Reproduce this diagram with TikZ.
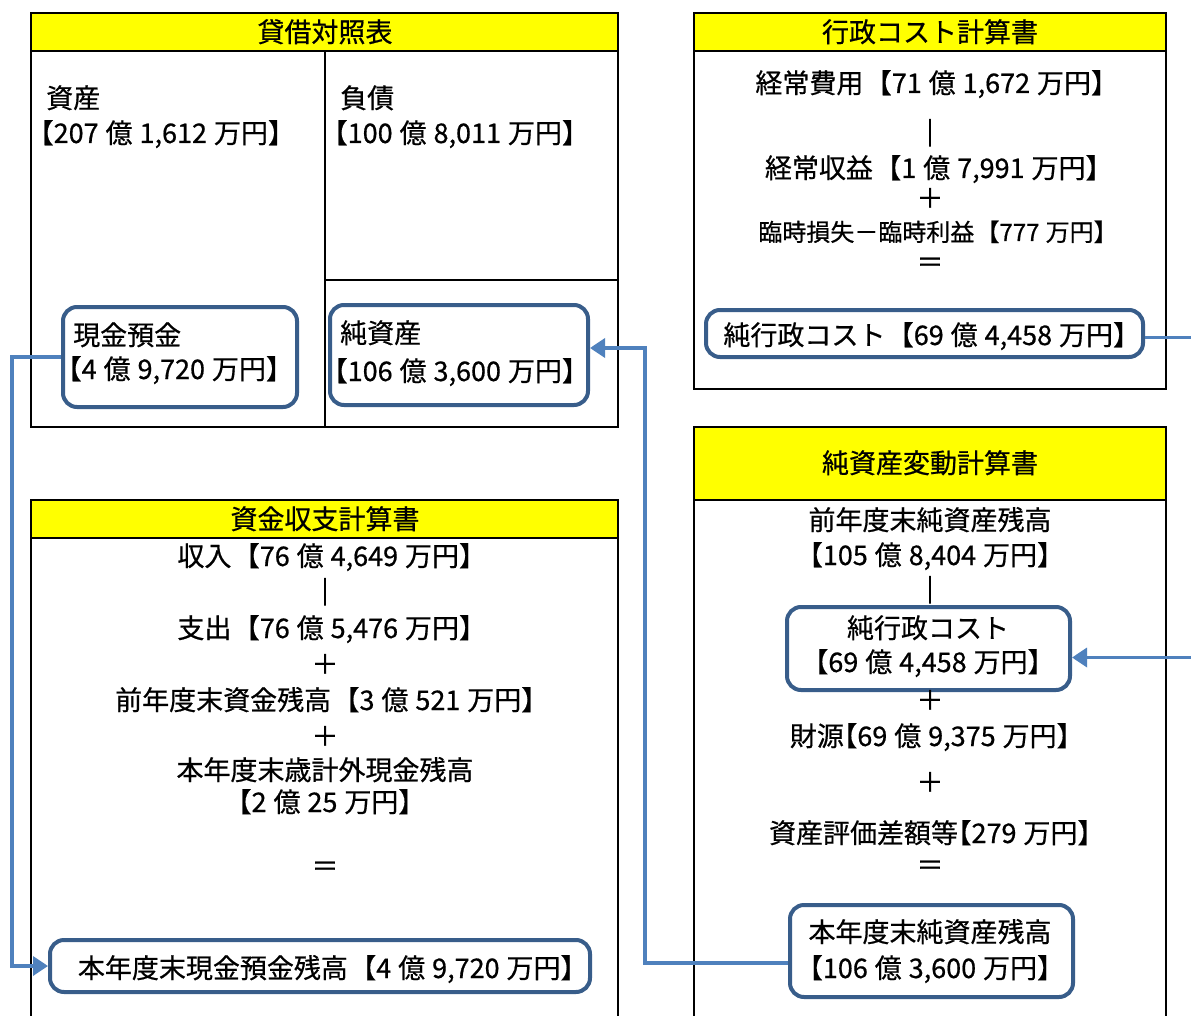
\documentclass[tikz,border=0pt]{standalone}
\usepackage{fontspec}
\setmainfont{Noto Sans CJK JP}[RawFeature=+halt,WordSpace=1.15,FakeBold=0.6]
\newfontfamily\barfont{Noto Sans CJK JP}[FakeBold=3]
\newcommand\brgap{\hspace{0.55em}}
\usetikzlibrary{arrows.meta,fit}
\definecolor{hdr}{RGB}{255,255,0}
\definecolor{connc}{RGB}{79,129,189}
\definecolor{rbd}{RGB}{56,93,138}
\begin{document}
\begin{tikzpicture}[x=1pt,y=-1pt,
  frame/.style={draw=black,line width=2pt},
  hdrbox/.style={draw=black,line width=2pt,fill=hdr},
  rbox/.style={draw=rbd,line width=4pt,rounded corners=14pt,fill=white,inner sep=0pt},
  txt/.style={anchor=base,inner sep=0pt,font=\fontsize{27}{32}\selectfont},
  ltxt/.style={txt,anchor=base west},
  stxt/.style={anchor=base,inner sep=0pt,font=\fontsize{24}{28}\selectfont},
  bartxt/.style={txt,font=\fontsize{27}{32}\barfont},
  conn/.style={draw=connc,line width=3.5pt},
  arr/.style={conn,-{Triangle[length=15pt,width=19pt]}},
]
\useasboundingbox (0,0) rectangle (1191,1016);
\fill[white] (0,0) rectangle (1191,1016);
\clip (0,0) rectangle (1191,1016);

% ---------- 貸借対照表 ----------
\draw[frame] (31,13) rectangle (618,427);
\draw[hdrbox] (31,13) rectangle (618,51);
\draw[frame] (325,51) -- (325,427);
\draw[frame] (325,280) -- (618,280);
\node[txt] (h1) at (325,42) {貸借対照表};
\node[ltxt] (asset) at (46,108) {資産};
\node[ltxt] (assetv) at (40,143) {【207 億 1,612 万円】};
\node[ltxt] (debt) at (340,108) {負債};
\node[ltxt] (debtv) at (334,143) {【100 億 8,011 万円】};
\node[rbox,fit={(63,307) (297,407)}] (cash) {};
\node[ltxt] (cashl) at (73,345) {現金預金};
\node[ltxt] (cashv) at (68,379) {【4 億 9,720 万円】};
\node[rbox,fit={(330,305) (588,405)}] (na) {};
\node[ltxt] (nal) at (340,343) {純資産};
\node[ltxt] (nav) at (334,381) {【106 億 3,600 万円】};

% ---------- 行政コスト計算書 ----------
\draw[frame] (694,13) rectangle (1166,389);
\draw[hdrbox] (694,13) rectangle (1166,51);
\node[txt] (h2) at (930,42) {行政コスト計算書};
\node[txt] (c1) at (930,93) {経常費用\brgap【71 億 1,672 万円】};
\node[bartxt] (c2) at (930,143) {｜};
\node[txt] (c3) at (932,178) {経常収益\brgap【1 億 7,991 万円】};
\node[txt] (c4) at (930,208) {＋};
\node[stxt] (c5) at (932,241) {臨時損失－臨時利益\brgap【777 万円】};
\node[txt] (c6) at (930,272) {＝};
\node[rbox,fit={(706,310) (1143,357)}] (cost) {};
\node[txt] (costl) at (925,345) {純行政コスト\brgap【69 億 4,458 万円】};

% ---------- 資金収支計算書 ----------
\draw[frame] (31,500) rectangle (618,1040);
\draw[hdrbox] (31,500) rectangle (618,538);
\node[txt] (h3) at (325,529) {資金収支計算書};
\node[txt] (f1) at (325,566) {収入\brgap【76 億 4,649 万円】};
\node[bartxt] (f2) at (325,602) {｜};
\node[txt] (f3) at (325,638) {支出\brgap【76 億 5,476 万円】};
\node[txt] (f4) at (325,674) {＋};
\node[txt] (f5) at (325,710) {前年度末資金残高\brgap【3 億 521 万円】};
\node[txt] (f6) at (325,746) {＋};
\node[txt] (f7) at (325,780) {本年度末歳計外現金残高};
\node[txt] (f8) at (325,812) {【2 億 25 万円】};
\node[txt] (f9) at (325,876) {＝};
\node[rbox,fit={(50,940) (590,992)}] (cashend) {};
\node[txt] (cashendl) at (326,978) {本年度末現金預金残高\brgap【4 億 9,720 万円】};

% ---------- 純資産変動計算書 ----------
\draw[frame] (694,427) rectangle (1166,1040);
\draw[hdrbox] (694,427) rectangle (1166,500);
\node[txt] (h4) at (930,473) {純資産変動計算書};
\node[txt] (n1) at (930,530) {前年度末純資産残高};
\node[txt] (n2) at (930,565) {【105 億 8,404 万円】};
\node[bartxt] (n3) at (930,600) {｜};
\node[rbox,fit={(787,607) (1070,690)}] (cost2) {};
\node[txt] (cost2l) at (928,638) {純行政コスト};
\node[txt] (cost2v) at (928,672) {【69 億 4,458 万円】};
\node[txt] (n4) at (930,710) {＋};
\node[txt] (n5) at (930,746) {財源【69 億 9,375 万円】};
\node[txt] (n6) at (930,792) {＋};
\node[txt] (n7) at (930,843) {資産評価差額等【279 万円】};
\node[txt] (n8) at (930,875) {＝};
\node[rbox,fit={(790,905) (1073,997)}] (endna) {};
\node[txt] (endnal) at (930,942) {本年度末純資産残高};
\node[txt] (endnav) at (930,978) {【106 億 3,600 万円】};

% ---------- connectors ----------
\coordinate (k1) at (12,600);
\coordinate (k2) at (645,600);
\coordinate (k3) at (1200,500);
\draw[arr] (cash.west) -| (k1) |- (cashend.west);
\draw[arr] ([yshift=-12pt]endna.west) -| (k2) |- ([yshift=7pt]na.east);
\draw[arr] ([yshift=-4pt]cost.east) -| (k3) |- ([yshift=-9pt]cost2.east);
\end{tikzpicture}
\end{document}
